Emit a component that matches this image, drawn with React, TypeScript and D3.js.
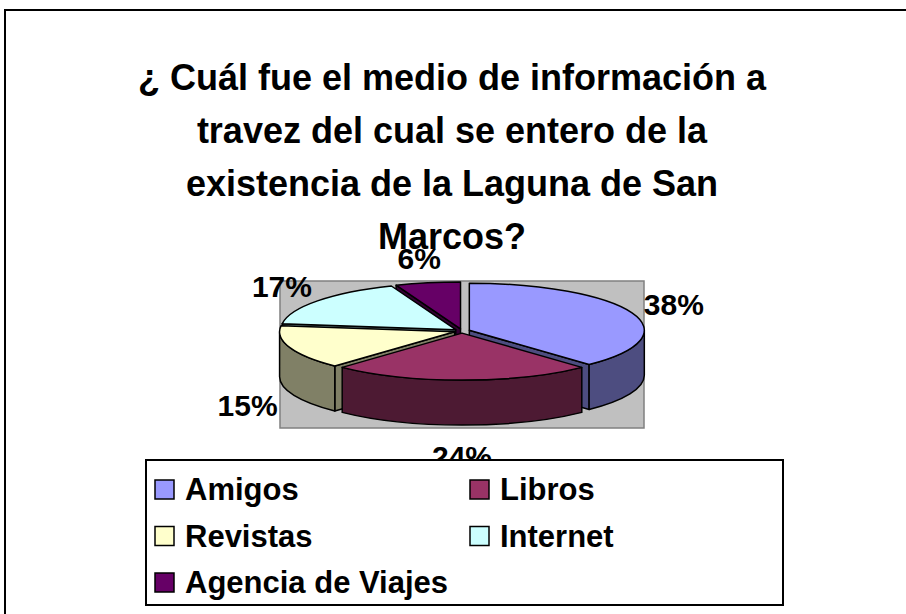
import React from 'react';
import * as d3 from 'd3';

const titleLines = [
  '¿ Cuál fue el medio de información a',
  'travez del cual se entero de la',
  'existencia de la Laguna de San',
  'Marcos?',
];
const categories = ['Amigos', 'Libros', 'Revistas', 'Internet', 'Agencia de Viajes'];
const values = [38, 24, 15, 17, 6];
const topColors = ['#9999FF', '#993366', '#FFFFCC', '#CCFFFF', '#660066'];
const sideColors = ['#4D4D80', '#4D1A33', '#808066', '#668080', '#330033'];

const FONT = '"Liberation Sans", Arial, Helvetica, sans-serif';

const App = () => {
  const width = 906;
  const height = 614;
  const cx = 462;
  const cy = 331;
  const rx = 175;
  const ry = 47;
  const depth = 45;
  const explode = 0.045;

  const total = d3.sum(values);
  const arcs = d3.pie<number>().sort(null).value(d => d)(values);

  const slices = arcs.map((a, i) => {
    const mid = (a.startAngle + a.endAngle) / 2;
    const ox = cx + explode * rx * Math.sin(mid);
    const oy = cy - explode * ry * Math.cos(mid);
    const pt = (ang: number, dz = 0) => [ox + rx * Math.sin(ang), oy - ry * Math.cos(ang) + dz];
    return { a0: a.startAngle, a1: a.endAngle, mid, ox, oy, pt, i };
  });

  const f = (p: number[]) => `${p[0].toFixed(2)},${p[1].toFixed(2)}`;

  // top faces
  const topPath = (s: any) => {
    const large = s.a1 - s.a0 > Math.PI ? 1 : 0;
    return `M${s.ox},${s.oy} L${f(s.pt(s.a0))} A${rx},${ry} 0 ${large} 1 ${f(s.pt(s.a1))} Z`;
  };

  // curved outer walls, only the front half is visible
  const walls: { d: string; i: number }[] = [];
  slices.forEach(s => {
    const b0 = Math.max(s.a0, Math.PI / 2);
    const b1 = Math.min(s.a1, (3 * Math.PI) / 2);
    if (b1 <= b0) return;
    walls.push({
      i: s.i,
      d: `M${f(s.pt(b0))} A${rx},${ry} 0 0 1 ${f(s.pt(b1))} L${f(s.pt(b1, depth))} A${rx},${ry} 0 0 0 ${f(s.pt(b0, depth))} Z`,
    });
  });

  // cut faces that turn toward the viewer
  const faces: { d: string; i: number; z: number }[] = [];
  slices.forEach(s => {
    const c = [s.ox, s.oy];
    const add = (ang: number) => {
      const p = s.pt(ang);
      faces.push({
        i: s.i,
        z: -Math.cos(ang),
        d: `M${f(c)} L${f(p)} L${f([p[0], p[1] + depth])} L${f([c[0], c[1] + depth])} Z`,
      });
    };
    if (Math.sin(s.a0) < -1e-6) add(s.a0);
    if (Math.sin(s.a1) > 1e-6) add(s.a1);
  });
  faces.sort((a, b) => a.z - b.z);

  const labelPos = (s: any) => {
    const x = s.ox + (rx + 45) * Math.sin(s.mid);
    let y = s.oy - (ry + 27) * Math.cos(s.mid) + 2;
    if (Math.cos(s.mid) < 0) y += depth + 2;
    return [x, y];
  };

  const stroke = { stroke: '#000', strokeWidth: 1.5, strokeLinejoin: 'round' as const };

  return (
    <svg width={width} height={height} style={{ position: 'absolute', left: 0, top: 0, background: '#fff' }}
      fontFamily={FONT} fontWeight="bold">
      <rect x={5} y={10} width={1000} height={1000} fill="#fff" stroke="#000" strokeWidth={2} />

      {titleLines.map((t, i) => (
        <text key={i} x={452} y={90 + i * 53} fontSize={36} textAnchor="middle">{t}</text>
      ))}

      <rect x={cx - rx - 7} y={cy - ry - 3} width={2 * rx + 14} height={2 * ry + depth + 8}
        fill="#C0C0C0" stroke="#808080" strokeWidth={1.5} />

      {faces.map((w, k) => <path key={'f' + k} d={w.d} fill={sideColors[w.i]} {...stroke} />)}
      {walls.map((w, k) => <path key={'w' + k} d={w.d} fill={sideColors[w.i]} {...stroke} />)}
      {slices.map(s => <path key={'t' + s.i} d={topPath(s)} fill={topColors[s.i]} {...stroke} />)}

      {slices.map(s => {
        const [x, y] = labelPos(s);
        return (
          <text key={'l' + s.i} x={x} y={y} fontSize={30} textAnchor="middle" dominantBaseline="central">
            {Math.round((values[s.i] / total) * 100)}%
          </text>
        );
      })}

      <rect x={146} y={460} width={637} height={145} fill="#fff" stroke="#000" strokeWidth={2} />
      {categories.map((c, i) => {
        const col = i % 2;
        const row = Math.floor(i / 2);
        const x = 155 + col * 315;
        const y = 480 + row * 46.5;
        return (
          <g key={'lg' + i}>
            <rect x={x} y={y} width={19} height={19} fill={topColors[i]} stroke="#000" strokeWidth={1.5} />
            <text x={x + 30} y={y + 20} fontSize={31}>{c}</text>
          </g>
        );
      })}
    </svg>
  );
};

export default App;
